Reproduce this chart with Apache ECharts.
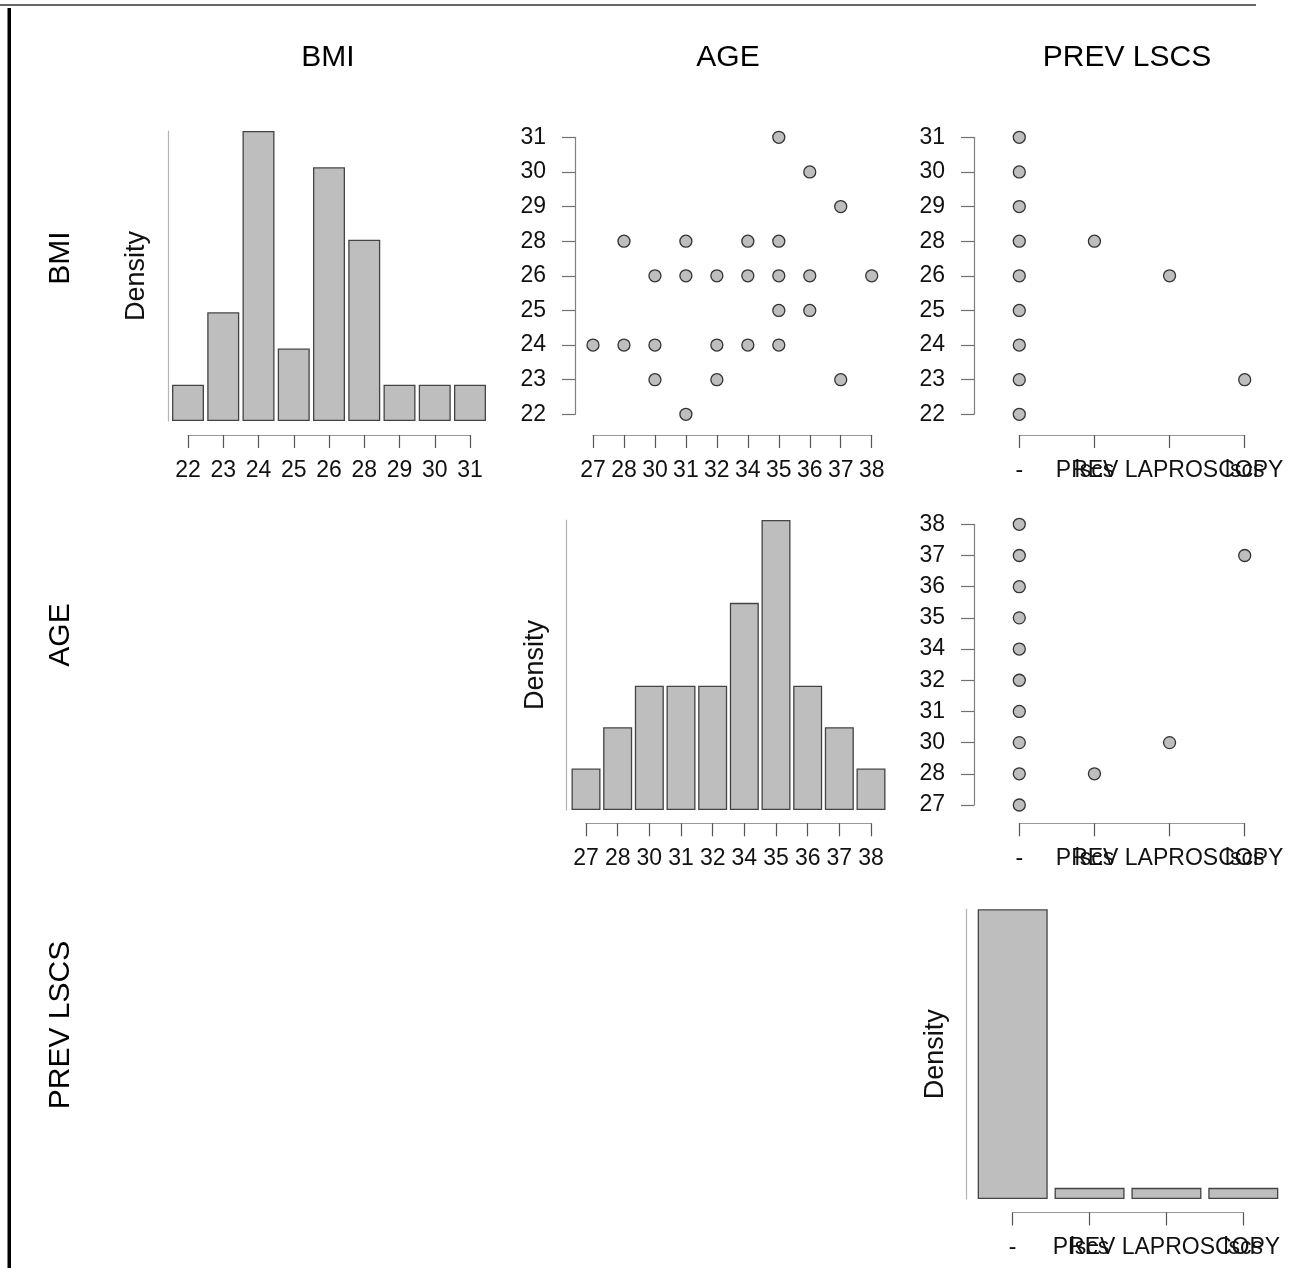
<!DOCTYPE html>
<html>
<head>
<meta charset="utf-8">
<script src="https://cdn.jsdelivr.net/npm/echarts@6/dist/echarts.min.js"></script>
<style>
html, body { margin: 0; padding: 0; background: #fff; }
#main { width: 1302px; height: 1268px; }
</style>
</head>
<body>
<div id="main"></div>
<script>
// levels of each variable (factor levels, in axis order)
var bmiLevels = ['22', '23', '24', '25', '26', '28', '29', '30', '31'];
var ageLevels = ['27', '28', '30', '31', '32', '34', '35', '36', '37', '38'];
var prevLevels = ['-', 'lscs', 'PREV LAPROSCOPY', 'lscs'];
var varNames = ['BMI', 'AGE', 'PREV LSCS'];

// histogram counts (diagonal)
var bmiCounts = [1, 3, 8, 2, 7, 5, 1, 1, 1];
var ageCounts = [1, 2, 3, 3, 3, 5, 7, 3, 2, 1];
var prevCounts = [26, 1, 1, 1];

// [AGE, BMI]
var ageBmi = [[35, 31], [36, 30], [37, 29], [28, 28], [31, 28], [34, 28], [35, 28],
    [30, 26], [31, 26], [32, 26], [34, 26], [35, 26], [36, 26], [38, 26],
    [35, 25], [36, 25], [27, 24], [28, 24], [30, 24], [32, 24], [34, 24], [35, 24],
    [30, 23], [32, 23], [37, 23], [31, 22]];
// [PREV LSCS level index, BMI]
var prevBmi = [[0, 22], [0, 23], [0, 24], [0, 25], [0, 26], [0, 28], [0, 29], [0, 30], [0, 31],
    [1, 28], [2, 26], [3, 23]];
// [PREV LSCS level index, AGE]
var prevAge = [[0, 27], [0, 28], [0, 30], [0, 31], [0, 32], [0, 34], [0, 35], [0, 36], [0, 37], [0, 38],
    [1, 28], [2, 30], [3, 37]];

var FONT = 'Liberation Sans, Arial, sans-serif';

function lvl(levels, v) { return levels.indexOf(String(v)); }

var panels = [
    {kind: 'hist', left: 188, top: 131, width: 282, height: 290, cats: bmiLevels, counts: bmiCounts, max: 8, yOff: 20, xOff: 14, barW: 32},
    {kind: 'scatter', left: 593, top: 137.3, width: 278.7, height: 277, xc: ageLevels, yc: bmiLevels,
        pts: ageBmi.map(function (p) { return [lvl(ageLevels, p[0]), lvl(bmiLevels, p[1])]; }), yOff: 18, xOff: 20.7},
    {kind: 'scatter', left: 1019.3, top: 137.3, width: 225.4, height: 277, xc: prevLevels, yc: bmiLevels,
        pts: prevBmi.map(function (p) { return [p[0], lvl(bmiLevels, p[1])]; }), yOff: 45.3, xOff: 20.7},
    {kind: 'hist', left: 586, top: 520, width: 285, height: 290, cats: ageLevels, counts: ageCounts, max: 7, yOff: 19.3, xOff: 13.3, barW: 29},
    {kind: 'scatter', left: 1019.3, top: 524.3, width: 225.4, height: 280.7, xc: prevLevels, yc: ageLevels,
        pts: prevAge.map(function (p) { return [p[0], lvl(ageLevels, p[1])]; }), yOff: 45.3, xOff: 18.3},
    {kind: 'hist', left: 1012.7, top: 909.3, width: 230.6, height: 289.7, cats: prevLevels, counts: prevCounts, max: 26, yOff: 46, xOff: 13.5, barW: 70}
];

var grid = [], xAxis = [], yAxis = [], series = [];

function xAxisFor(i, cats, off) {
    return {
        gridIndex: i, type: 'category', data: cats, boundaryGap: false, offset: off,
        axisLine: {show: true, onZero: false, lineStyle: {color: '#999', width: 1.2}},
        axisTick: {show: true, interval: 0, length: 13, lineStyle: {color: '#555', width: 1.2}},
        axisLabel: {interval: 0, margin: 24, fontSize: 23, color: '#111', fontFamily: FONT},
        splitLine: {show: false}
    };
}

panels.forEach(function (p, i) {
    grid.push({left: p.left, top: p.top, width: p.width, height: p.height, containLabel: false, outerBoundsMode: 'none'});
    if (p.kind === 'hist') {
        xAxis.push(xAxisFor(i, p.cats, p.xOff));
        yAxis.push({
            gridIndex: i, type: 'value', min: 0, max: p.max, offset: p.yOff,
            axisLine: {show: true, onZero: false, lineStyle: {color: '#b4b4b4', width: 1.2}},
            axisTick: {show: false}, axisLabel: {show: false}, splitLine: {show: false},
            name: 'Density', nameLocation: 'middle', nameGap: 18,
            nameTextStyle: {fontSize: 27, color: '#111', fontFamily: FONT}
        });
        series.push({
            type: 'bar', xAxisIndex: i, yAxisIndex: i, data: p.counts, barWidth: p.barW, clip: false,
            itemStyle: {color: '#bebebe', borderColor: '#444', borderWidth: 1.3},
            emphasis: {disabled: true}, animation: false
        });
    } else {
        xAxis.push(xAxisFor(i, p.xc, p.xOff));
        yAxis.push({
            gridIndex: i, type: 'category', data: p.yc, boundaryGap: false, offset: p.yOff,
            axisLine: {show: true, onZero: false, lineStyle: {color: '#808080', width: 1.2}},
            axisTick: {show: true, interval: 0, length: 13, lineStyle: {color: '#707070', width: 1.2}},
            axisLabel: {interval: 0, margin: 29, fontSize: 23, color: '#111', fontFamily: FONT},
            splitLine: {show: false}
        });
        series.push({
            type: 'scatter', xAxisIndex: i, yAxisIndex: i, data: p.pts, symbol: 'circle', symbolSize: 12, clip: false,
            itemStyle: {color: '#bebebe', borderColor: '#333', borderWidth: 1.3, opacity: 1},
            emphasis: {disabled: true}, animation: false
        });
    }
});

var colX = [328, 728, 1127];
var rowY = [258, 635, 1025];
var graphic = [
    {type: 'line', shape: {x1: 0, y1: 5, x2: 1256, y2: 5}, style: {stroke: '#666', lineWidth: 2}},
    {type: 'rect', shape: {x: 7.5, y: 8, width: 3.5, height: 1262}, style: {fill: '#000'}}
];
varNames.forEach(function (n, i) {
    graphic.push({type: 'text', x: colX[i], y: 58,
        style: {text: n, font: '30px ' + FONT, fill: '#000', textAlign: 'center', textVerticalAlign: 'middle'}});
    graphic.push({type: 'text', x: 61, y: rowY[i], rotation: Math.PI / 2,
        style: {text: n, font: '30px ' + FONT, fill: '#000', textAlign: 'center', textVerticalAlign: 'middle'}});
});

var myChart = echarts.init(document.getElementById('main'), null, {renderer: 'canvas'});
myChart.setOption({
    backgroundColor: '#fff',
    animation: false,
    grid: grid,
    xAxis: xAxis,
    yAxis: yAxis,
    series: series,
    graphic: graphic
});
</script>
</body>
</html>
